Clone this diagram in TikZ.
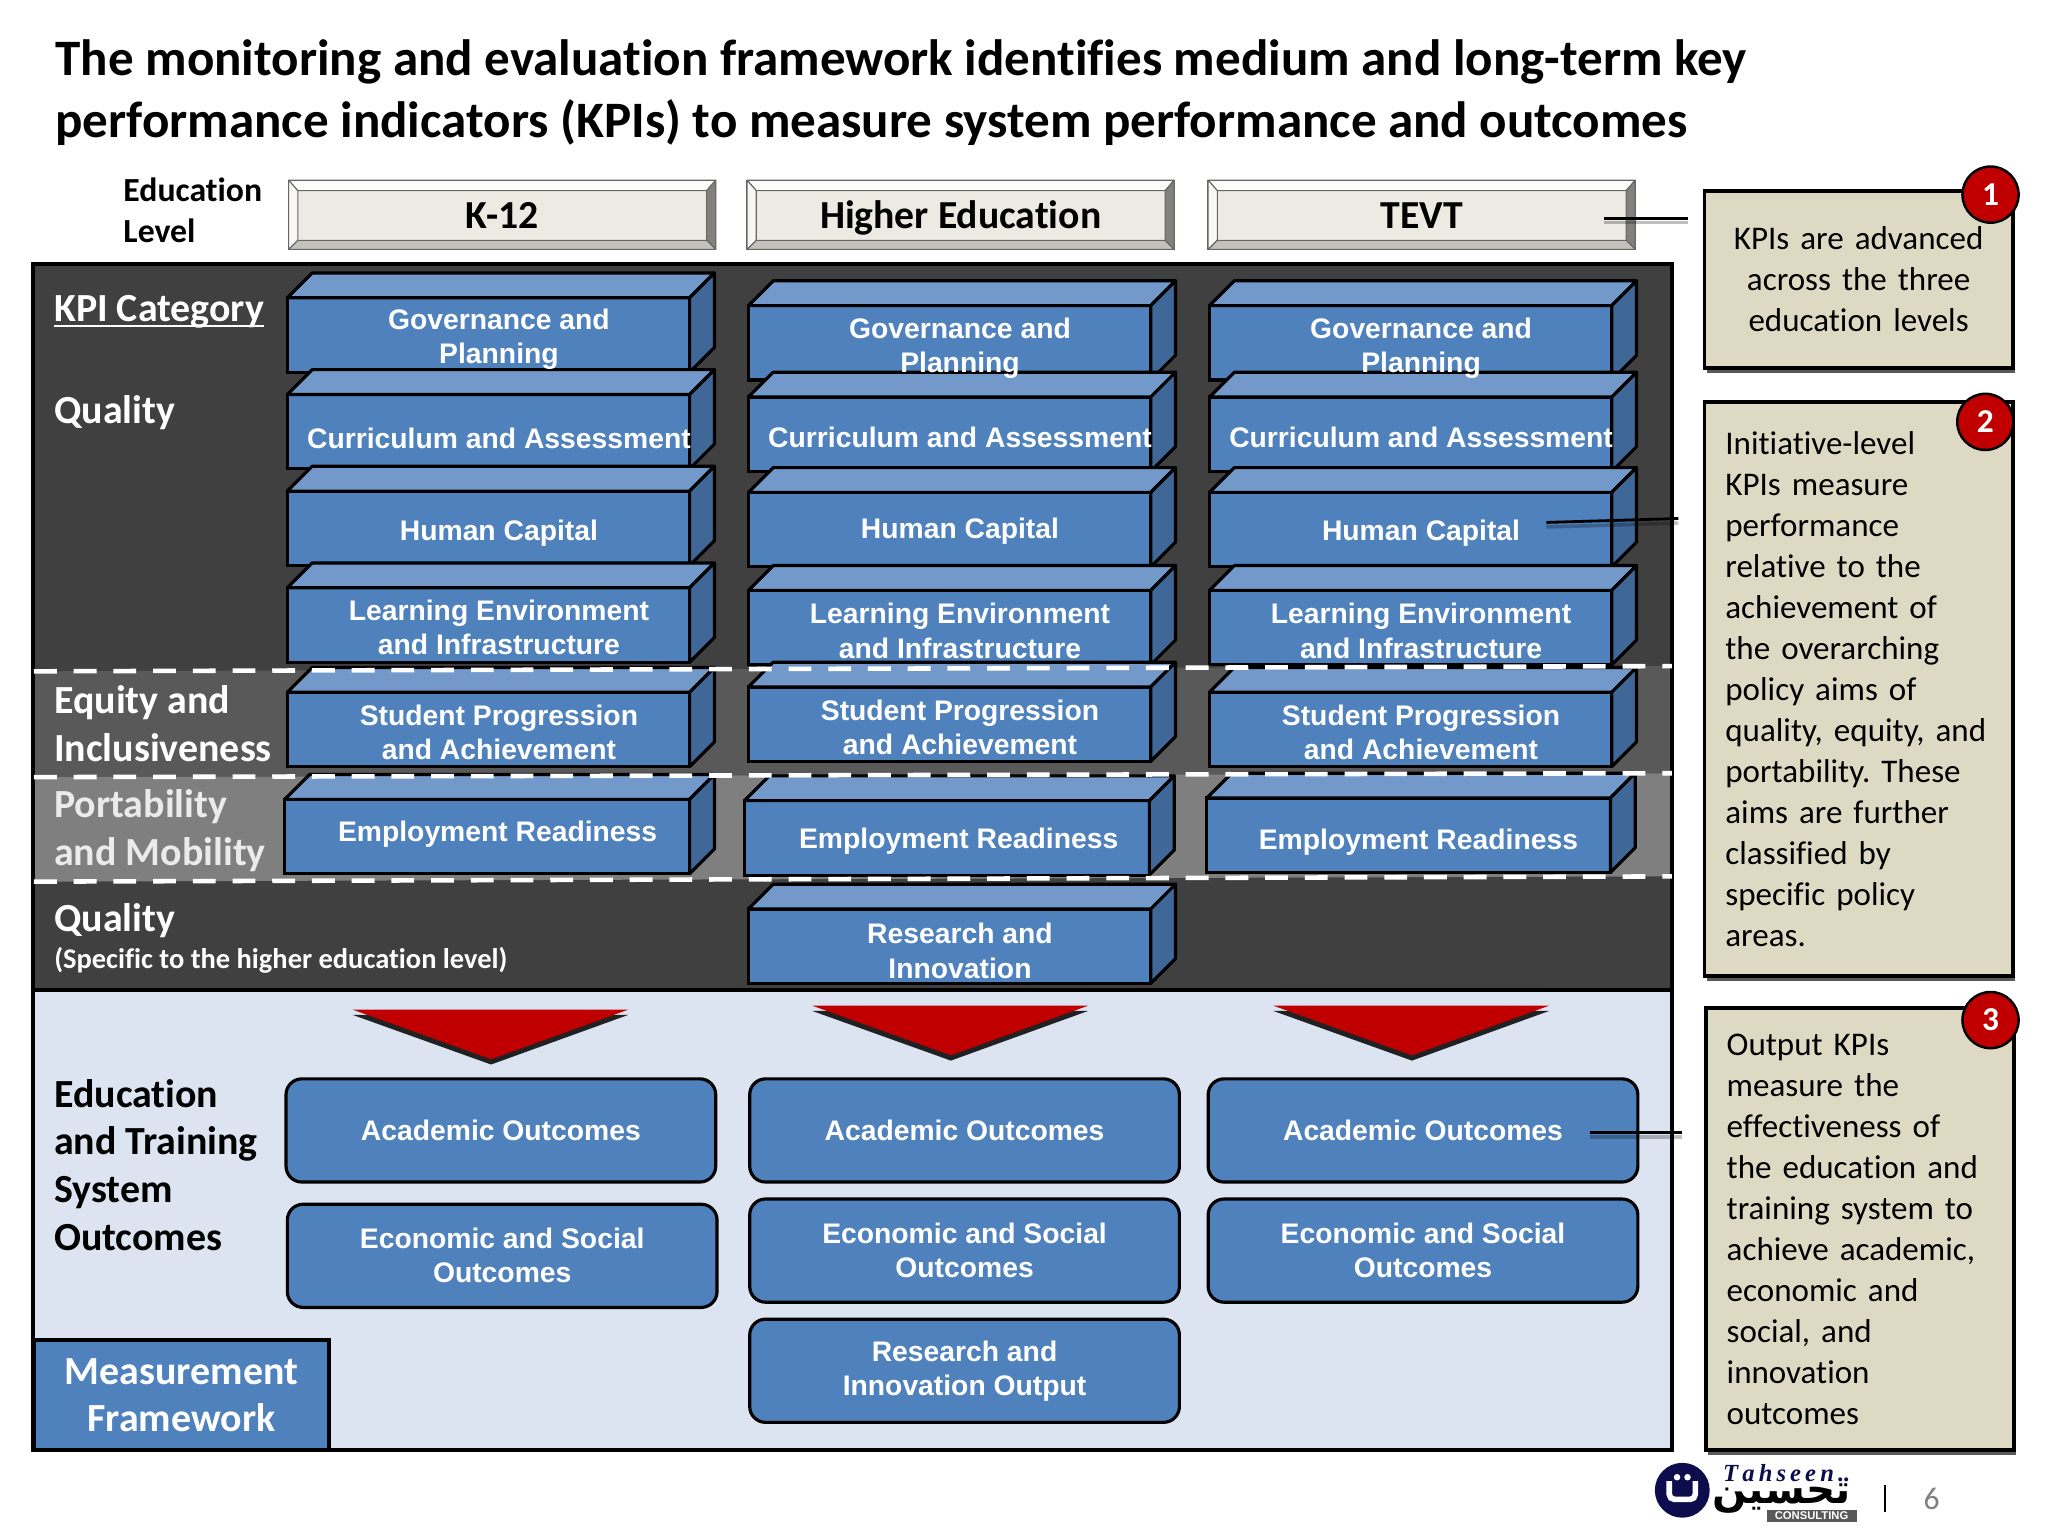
\documentclass[tikz,border=0pt]{standalone}
\usepackage{fontspec}
\setmainfont{Carlito}[Ligatures=NoCommon]
\newfontfamily\arialfam{Liberation Sans}
\newfontfamily\seriffam{Liberation Serif}
\newfontfamily\arabfam[Script=Arabic]{DejaVu Sans}
\usetikzlibrary{calc,shadows}
\newcommand{\pu}{0.37162pt}
\definecolor{kpiblue}{HTML}{4F81BD}
\definecolor{kpitop}{HTML}{7299C9}
\definecolor{kpiside}{HTML}{3F6797}
\definecolor{darkband}{HTML}{404040}
\definecolor{midband}{HTML}{595959}
\definecolor{lightband}{HTML}{7F7F7F}
\definecolor{paleblue}{HTML}{DCE4F1}
\definecolor{noteback}{HTML}{DDD9C3}
\definecolor{redmark}{HTML}{C00000}
\definecolor{levelback}{HTML}{ECEBE3}
\definecolor{navylogo}{HTML}{0D0D4D}
\tikzset{
  kpibox/.style={draw=black,fill=kpiblue,line width=.9pt,anchor=north west,inner sep=0pt,outer sep=0pt,minimum height=57*\pu},
  kpilabel/.style={text=white,font=\arialfam\bfseries\fontsize{8.05}{9.7}\selectfont,align=center,inner sep=0pt},
  kpiface/.style={draw=black,line width=.9pt,line join=round},
  outcome/.style={draw=black,fill=kpiblue,line width=.9pt,rounded corners=4.5pt,minimum width=329*\pu,minimum height=79*\pu,
    anchor=north west,inner sep=0pt,outer sep=0pt,text=white,font=\arialfam\bfseries\fontsize{8.05}{9.7}\selectfont,align=center},
  level/.style={draw=black!60,fill=levelback,line width=.4pt,minimum width=327*\pu,minimum height=53*\pu,anchor=north west,
    inner sep=0pt,outer sep=0pt,text height=8pt,text depth=0pt,font=\bfseries\fontsize{11.3}{13}\selectfont},
  bevel/.style={draw=black!60,line width=.3pt,line join=round},
  cat/.style={anchor=west,inner sep=0pt,align=left,text=white,font=\bfseries\fontsize{11.35}{13.5}\selectfont},
  note/.style={draw=black,fill=noteback,line width=1.1pt,inner xsep=16*\pu,inner ysep=0pt,outer sep=0pt,text width=204*\pu,minimum height=50pt,
    font=\fontsize{9.4}{11.67}\selectfont,drop shadow={shadow xshift=.6pt,shadow yshift=-1.4pt,opacity=.65,fill=black}},
  badge/.style={circle,draw=black,fill=redmark,line width=.7pt,minimum size=43*\pu,inner sep=0pt,text=white,font=\bfseries\fontsize{9.5}{11}\selectfont},
  arrowtri/.style={fill=redmark,draw=none,drop shadow={shadow xshift=0pt,shadow yshift=-1.5pt,opacity=.85,fill=black}},
  pointer/.style={draw=black,line width=.8pt,preaction={draw=black,draw opacity=.25,line width=1pt,transform canvas={yshift=-1.3pt}}},
  whitedash/.style={draw=white,line width=1.3pt,dash pattern=on 6.5pt off 4.8pt},
}
\TeXXeTstate=1
\frenchspacing
\newcommand{\kpilist}{
  gova/220/228/308/382/260/{Governance and\\Planning},
  cura/220/302/308/382/336/{Curriculum and Assessment},
  huma/220/376/308/382/408/{Human Capital},
  lena/220/450/308/382/480/{Learning Environment\\and Infrastructure},
  stua/220/530/308/382/561/{Student Progression\\and Achievement},
  empa/218/612/310/381/639/{Employment Readiness},
  govb/573/234/308/735/266.5/{Governance and\\Planning},
  curb/573/304/308/735/335/{Curriculum and Assessment},
  humb/573/377/308/735/407/{Human Capital},
  lenb/573/452/308/735/483/{Learning Environment\\and Infrastructure},
  stub/573/526/308/735/557/{Student Progression\\and Achievement},
  empb/570/613/310/734/644/{Employment Readiness},
  resb/573/696/308/735/728/{Research and\\Innovation},
  govc/926/234/308/1088/266.5/{Governance and\\Planning},
  curc/926/304/308/1088/335/{Curriculum and Assessment},
  humc/926/377/308/1088/408/{Human Capital},
  lenc/926/452/308/1088/483/{Learning Environment\\and Infrastructure},
  stuc/926/530/308/1088/561/{Student Progression\\and Achievement},
  empc/924/611/309/1086/645/{Employment Readiness}}
\begin{document}
\begin{tikzpicture}[x=0.013061cm,y=-0.013061cm]
\useasboundingbox (0,0) rectangle (1568,1176);
\fill[white] (0,0) rectangle (1568,1176);

% title
\node[anchor=west,inner sep=0pt,align=left,font=\bfseries\fontsize{14.53}{17.5}\selectfont] (title) at (42,71)
  {The monitoring and evaluation framework identifies medium and long-term key\\performance indicators (KPIs) to measure system performance and outcomes};

% education levels
\node[anchor=west,inner sep=0pt,align=left,font=\bfseries\fontsize{9.6}{11.9}\selectfont] (edulevel) at (94,161) {Education\\Level};
\foreach \nm/\xx/\txt in {k12/221/K-12,higher/572/Higher Education,tevt/925/TEVT}{
  \node[level] (\nm) at (\xx,138) {\txt};
  \filldraw[bevel,fill=white!85!levelback] (\nm.north west) -- (\nm.north east) -- ($(\nm.north east)+(-7,8)$) -- ($(\nm.north west)+(7,8)$) -- cycle;
  \filldraw[bevel,fill=white!60!levelback] (\nm.north west) -- (\nm.south west) -- ($(\nm.south west)+(7,-7)$) -- ($(\nm.north west)+(7,8)$) -- cycle;
  \filldraw[bevel,fill=black!45!levelback] (\nm.north east) -- (\nm.south east) -- ($(\nm.south east)+(-7,-7)$) -- ($(\nm.north east)+(-7,8)$) -- cycle;
  \filldraw[bevel,fill=black!18!levelback] (\nm.south west) -- (\nm.south east) -- ($(\nm.south east)+(-7,-7)$) -- ($(\nm.south west)+(7,-7)$) -- cycle;
}

% frame and bands
\fill[darkband] (25,202) rectangle (1280,758);
\fill[midband] (25,514) -- (1280,510) -- (1280,592) -- (25,595) -- cycle;
\fill[lightband] (25,595) -- (1280,592) -- (1280,671) -- (25,675) -- cycle;
\fill[paleblue] (25,758) rectangle (1280,1110);
\draw[black,line width=1.1pt] (25,202) rectangle (1280,1110);
\draw[black,line width=1.1pt] (25,758) -- (1280,758);

% kpi boxes
\foreach \nm/\xx/\yy/\ww/\tx/\ty/\txt in \kpilist{
  \node[kpibox,minimum width=\ww*\pu] (\nm) at (\xx,\yy) {};
  \filldraw[kpiface,fill=kpitop] (\nm.north west) -- ++(19,-19) -- ($(\nm.north east)+(19,-19)$) -- (\nm.north east) -- cycle;
  \filldraw[kpiface,fill=kpiside] (\nm.north east) -- ++(19,-19) -- ($(\nm.south east)+(19,-19)$) -- (\nm.south east) -- cycle;
}
\foreach \nm/\xx/\yy/\ww/\tx/\ty/\txt in \kpilist{
  \node[kpilabel] (\nm-txt) at (\tx,\ty) {\txt};
}

% dashed band lines
\draw[whitedash] (26,514) -- (1280,510);
\draw[whitedash] (26,595) -- (1280,592);
\draw[whitedash] (26,675) -- (1280,671);

% category labels
\node[cat,text height=7.4pt,text depth=0pt] (kpicat) at (41,236) {\underline{\smash{KPI Category}}};
\node[cat] (quality) at (41,316) {Quality};
\node[cat] (equity) at (41,554) {Equity and\\Inclusiveness};
\node[cat,text=white!92!black] (port) at (41,636) {Portability\\and Mobility};
\node[cat] (qualityb) at (41,705) {Quality};
\node[cat,font=\bfseries\fontsize{8.1}{10}\selectfont] (specific) at (41,735) {(Specific to the higher education level)};
\node[cat,text=black,font=\bfseries\fontsize{11.35}{13.62}\selectfont] (system) at (41,892) {Education\\and Training\\System\\Outcomes};
\node[draw=black,fill=kpiblue,line width=1pt,anchor=north west,inner sep=0pt,outer sep=0pt,minimum width=226*\pu,minimum height=84*\pu,
  align=center,text=white,font=\bfseries\fontsize{11.35}{13.4}\selectfont] (measure) at (26,1026) {Measurement\\Framework};

% red arrows
\foreach \nm/\xx/\yy in {tria/270/773,trib/622/770,tric/975/770}{
  \fill[arrowtri] (\xx,\yy) -- ++(211,0) -- ++(-105,38) -- cycle;
  \coordinate (\nm) at (\xx,\yy);
}

% outcome boxes
\node[outcome] (acada) at (219,826) {Academic Outcomes};
\node[outcome] (econa) at (220,922) {Economic and Social\\Outcomes};
\node[outcome] (acadb) at (574,826) {Academic Outcomes};
\node[outcome] (econb) at (574,918) {Economic and Social\\Outcomes};
\node[outcome] (resout) at (574,1010) {Research and\\Innovation Output};
\node[outcome] (acadc) at (925,826) {Academic Outcomes};
\node[outcome] (econc) at (925,918) {Economic and Social\\Outcomes};

% notes
\node[note,minimum height=136*\pu,align=center] (noteone) at (1423,214) {KPIs are advanced\\across the three\\education levels};
\node[note,minimum height=439*\pu,align=left] (notetwo) at (1423,527.5) {Initiative-level\\KPIs measure\\performance\\relative to the\\achievement of\\the overarching\\policy aims of\\quality, equity, and\\portability. These\\aims are further\\classified by\\specific policy\\areas.};
\node[note,minimum height=338*\pu,align=left] (notethree) at (1424,941) {Output KPIs\\measure the\\effectiveness of\\the education and\\training system to\\achieve academic,\\economic and\\social, and\\innovation\\outcomes};
\node[badge] (badgeone) at (1524,149) {1};
\node[badge] (badgetwo) at (1520,323) {2};
\node[badge] (badgethree) at (1524,781) {3};

% pointers
\coordinate (ptaa) at (1228,167);
\coordinate (ptab) at (1292,167);
\coordinate (ptba) at (1184,400);
\coordinate (ptbb) at (1285,397);
\coordinate (ptca) at (1217,867);
\coordinate (ptcb) at (1288,867);
\draw[pointer] (ptaa) -- (ptab);
\draw[pointer] (ptba) -- (ptbb);
\draw[pointer] (ptca) -- (ptcb);

% logo and page number
\node[circle,fill=navylogo,minimum size=42*\pu,inner sep=0pt] (logo) at (1288,1141) {};
\draw[white,line width=1.6pt,rounded corners=1.5pt] (1278,1134) -- (1278,1148) -- (1298,1148) -- (1298,1134);
\node[circle,fill=white,minimum size=5*\pu,inner sep=0pt] (dota) at (1284,1131) {};
\node[circle,fill=white,minimum size=5*\pu,inner sep=0pt] (dotb) at (1292,1131) {};
\node[inner sep=0pt,font=\arabfam\bfseries\fontsize{11.5}{14}\selectfont] (arabic) at (1364,1147) {\beginR تحسين\endR};
\node[inner sep=0pt,text=navylogo,font=\seriffam\bfseries\itshape\fontsize{7}{8}\selectfont] (tahseen) at (1368,1128) {T\,a\,h\,s\,e\,e\,n\,..};
\node[fill=black!65,inner sep=0pt,minimum width=69*\pu,minimum height=9*\pu,text=white,font=\arialfam\bfseries\fontsize{3.2}{4}\selectfont] (consult) at (1387,1160.5) {CONSULTING};
\draw[black,line width=.6pt] (1443,1137) -- (1443,1158);
\node[inner sep=0pt,text=black!50,font=\fontsize{9}{11}\selectfont] (pageno) at (1479,1148) {6};
\end{tikzpicture}
\end{document}
